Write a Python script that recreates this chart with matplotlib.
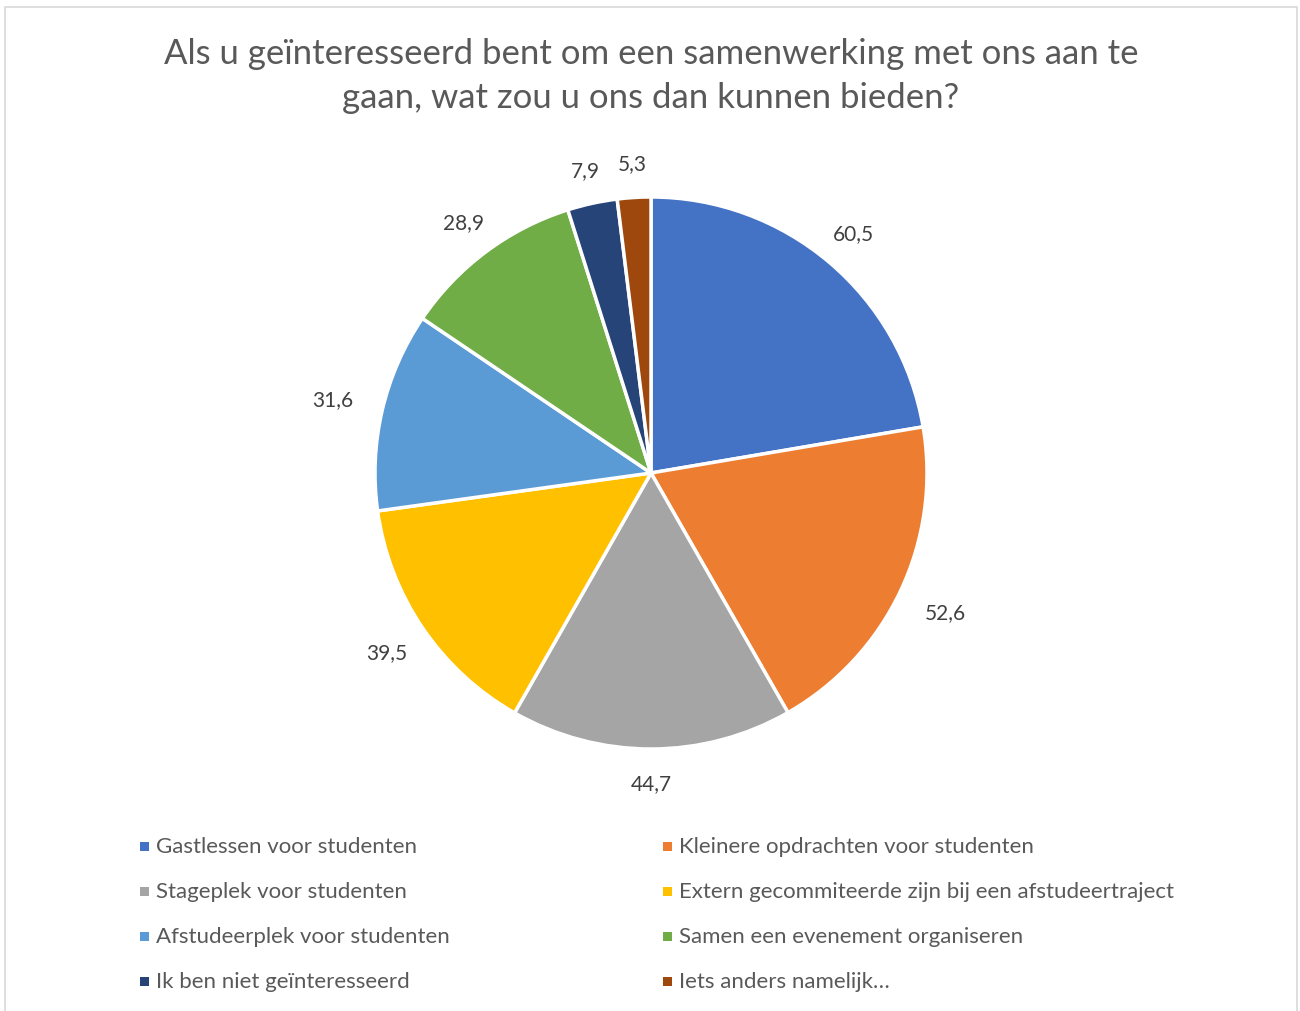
import numpy as np
import matplotlib.pyplot as plt
from matplotlib.patches import Rectangle

# Data
labels = [
    "Gastlessen voor studenten",
    "Kleinere opdrachten voor studenten",
    "Stageplek voor studenten",
    "Extern gecommiteerde zijn bij een afstudeertraject",
    "Afstudeerplek voor studenten",
    "Samen een evenement organiseren",
    "Ik ben niet geïnteresseerd",
    "Iets anders namelijk…",
]
values = [60.5, 52.6, 44.7, 39.5, 31.6, 28.9, 7.9, 5.3]
value_labels = ["60,5", "52,6", "44,7", "39,5", "31,6", "28,9", "7,9", "5,3"]
colors = ["#4472C4", "#ED7D31", "#A5A5A5", "#FFC000",
          "#5B9BD5", "#70AD47", "#264478", "#9E480E"]

title = "Als u geïnteresseerd bent om een samenwerking met ons aan te\ngaan, wat zou u ons dan kunnen bieden?"

plt.rcParams['font.family'] = ['Lato', 'DejaVu Sans']
text_color = "#595959"

W, H = 1300, 1012
fig = plt.figure(figsize=(W / 100, H / 100), dpi=100)

# chart frame
fig.add_artist(Rectangle((5 / W, -0.05), 1292 / W, (H - 8) / H + 0.05,
                         transform=fig.transFigure, fill=False,
                         edgecolor="#D9D9D9", linewidth=1.2))

# pie axes: center (651, 474) px, radius 276 px
cx, cy, r = 651, H - 474, 276
ax = fig.add_axes([(cx - r) / W, (cy - r) / H, 2 * r / W, 2 * r / H])
wedges, texts = ax.pie(values, colors=colors, startangle=90, counterclock=False,
                       labels=value_labels, labeldistance=1.17,
                       wedgeprops=dict(edgecolor="white", linewidth=2.5),
                       textprops=dict(fontsize=15, color="#404040"))

# put each label just outside the pie, keeping a gap between its box and the edge
hw, hh, gap = 28, 12, 22
for w, t in zip(wedges, texts):
    ang = np.deg2rad((w.theta1 + w.theta2) / 2)
    c, s = np.cos(ang), np.sin(ang)
    ext = min(hw / max(abs(c), 1e-6), hh / max(abs(s), 1e-6))
    d = (r + gap + ext) / r
    t.set_position((d * c, d * s))
    t.set_ha("center")
    t.set_va("center")
ax.set_xlim(-1, 1)
ax.set_ylim(-1, 1)
ax.axis("off")

fig.text(651 / W, 1 - 76 / H, title, ha="center", va="center",
         fontsize=25, color=text_color, linespacing=1.45)

# legend laid out row by row, two columns
col_x = [140, 663]
row_y = [847, 892, 937, 982]
for i, lab in enumerate(labels):
    x = col_x[i % 2]
    y = row_y[i // 2]
    fig.add_artist(Rectangle((x / W, (H - y - 4.5) / H), 9 / W, 9 / H,
                             transform=fig.transFigure, facecolor=colors[i],
                             edgecolor="none"))
    fig.text((x + 16) / W, (H - y) / H, lab, ha="left", va="center",
             fontsize=16, color=text_color)

fig.savefig("out.png", dpi=100, facecolor="white")
